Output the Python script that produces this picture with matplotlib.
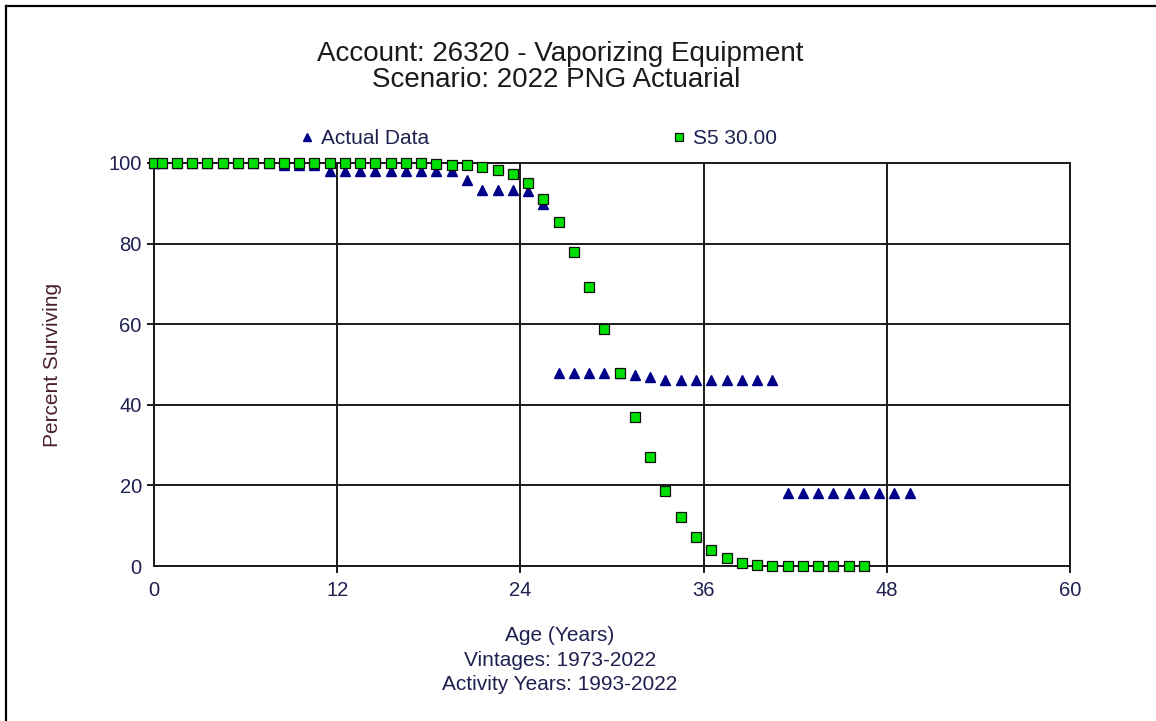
import numpy as np
import matplotlib
matplotlib.use("Agg")
import matplotlib.pyplot as plt
from matplotlib.lines import Line2D

plt.rcParams['font.family'] = ['Liberation Sans', 'DejaVu Sans']

actual_age = [0, 0.5, 1.5, 2.5, 3.5, 4.5, 5.5, 6.5, 7.5, 8.5, 9.5, 10.5, 11.5, 12.5,
              13.5, 14.5, 15.5, 16.5, 17.5, 18.5, 19.5, 20.5, 21.5, 22.5, 23.5, 24.5,
              25.5, 26.5, 27.5, 28.5, 29.5, 30.5, 31.5, 32.5, 33.5, 34.5, 35.5, 36.5,
              37.5, 38.5, 39.5, 40.5, 41.5, 42.5, 43.5, 44.5, 45.5, 46.5, 47.5, 48.5, 49.5]
actual_pct = [100, 100, 100, 100, 100, 100, 100, 100, 100, 99.5, 99.5, 99.5, 98.1, 98.1,
              98.1, 98.1, 98.1, 98.1, 98.1, 98.1, 98.1, 95.9, 93.3, 93.3, 93.3, 93.0,
              89.8, 48.0, 48.0, 48.0, 48.0, 47.9, 47.4, 47.0, 46.2, 46.2, 46.2, 46.2,
              46.2, 46.2, 46.2, 46.2, 18.0, 18.0, 18.0, 18.0, 18.0, 18.0, 18.0, 18.0, 18.0]

s5_age = [0, 0.5, 1.5, 2.5, 3.5, 4.5, 5.5, 6.5, 7.5, 8.5, 9.5, 10.5, 11.5, 12.5, 13.5,
          14.5, 15.5, 16.5, 17.5, 18.5, 19.5, 20.5, 21.5, 22.5, 23.5, 24.5, 25.5, 26.5,
          27.5, 28.5, 29.5, 30.5, 31.5, 32.5, 33.5, 34.5, 35.5, 36.5, 37.5, 38.5, 39.5,
          40.5, 41.5, 42.5, 43.5, 44.5, 45.5, 46.5]
s5_pct = [100, 100, 100, 100, 100, 100, 100, 100, 100, 100, 100, 100, 100, 100, 100,
          100, 100, 100, 99.9, 99.8, 99.6, 99.4, 99.0, 98.3, 97.2, 95.0, 91.1, 85.4,
          78.0, 69.2, 58.8, 47.8, 37.0, 27.1, 18.6, 12.1, 7.3, 3.9, 1.9, 0.8, 0.3,
          0.1, 0.0, 0.0, 0.0, 0.0, 0.0, 0.0]

xticks = [0, 12, 24, 36, 48, 60]
yticks = [0, 20, 40, 60, 80, 100]

W, H = 1156, 721
fig = plt.figure(figsize=(W / 100, H / 100), dpi=100)
ax = fig.add_axes([154 / W, 1 - 566 / H, 916 / W, 403 / H])

navy = '#1e2050'
line_c = '#1a1a1a'

ax.plot(actual_age, actual_pct, linestyle='none', marker='^', markersize=7.4,
        color='#000088', markeredgecolor='#000088', clip_on=False, zorder=3,
        label='Actual Data')
ax.plot(s5_age, s5_pct, linestyle='none', marker='s', markersize=7.3,
        markerfacecolor='#00e000', markeredgecolor='#101010', markeredgewidth=0.9,
        clip_on=False, zorder=4, label='S5 30.00')

ax.set_xlim(0, 60)
ax.set_ylim(0, 100)
ax.set_xticks(xticks)
ax.set_yticks(yticks)
ax.grid(True, color=line_c, linewidth=1.4)
ax.set_axisbelow(True)
for s in ax.spines.values():
    s.set_color(line_c)
    s.set_linewidth(1.4)

ax.tick_params(axis='x', length=5, width=1.4, color=line_c, pad=6, labelsize=14.5, labelcolor=navy)
ax.tick_params(axis='y', length=5.3, width=1.4, color=line_c, pad=3.5, labelsize=14.5, labelcolor=navy)
ax.xaxis.get_major_ticks()[0].tick1line.set_visible(False)
ax.yaxis.get_major_ticks()[0].tick1line.set_visible(False)

ax.set_ylabel('Percent Surviving', fontsize=15, color='#4a2030')
ax.yaxis.set_label_coords((62 - 154) / 916, 0.5)

fig.text(560 / W, 1 - 60.7 / H, 'Account: 26320 - Vaporizing Equipment',
         ha='center', va='baseline', fontsize=20, color='#1a1a1a')
fig.text(556 / W, 1 - 87.3 / H, 'Scenario: 2022 PNG Actuarial',
         ha='center', va='baseline', fontsize=20, color='#1a1a1a')

fig.text(560 / W, 1 - 660 / H, 'Age (Years)\nVintages: 1973-2022\nActivity Years: 1993-2022',
         ha='center', va='center', fontsize=15, color=navy, linespacing=1.38)

fig.legend(loc='center left', bbox_to_anchor=(299 / W, 1 - 139 / H), ncol=2,
           frameon=False, fontsize=15, markerscale=0.8, handlelength=0.8,
           handletextpad=0.25, columnspacing=11.6, borderpad=0, borderaxespad=0,
           labelcolor=navy)

fig.add_artist(Line2D([6 / W, 6 / W], [0, 1 - 6 / H], color='black', linewidth=1.6))
fig.add_artist(Line2D([6 / W, 1], [1 - 6 / H, 1 - 6 / H], color='black', linewidth=1.6))

plt.savefig('out.png', dpi=100, facecolor='white')
plt.close()
